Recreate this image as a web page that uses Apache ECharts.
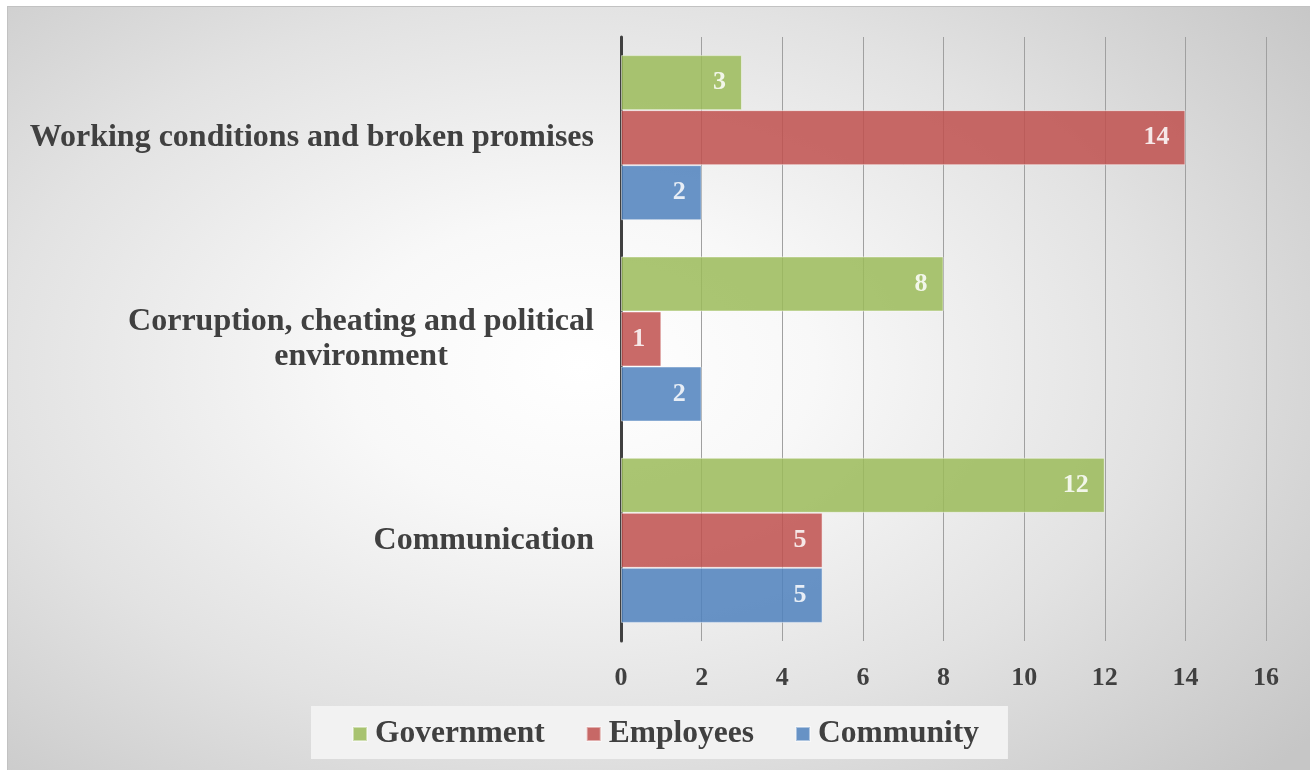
<!DOCTYPE html>
<html>
<head>
<meta charset="utf-8">
<script src="https://cdn.jsdelivr.net/npm/echarts@6/dist/echarts.min.js"></script>
<style>
  html, body { margin: 0; padding: 0; background: #ffffff; }
  #frame {
    position: absolute; left: 7px; top: 6px;
    border-top: 1px solid #c2c2c2; border-left: 1px solid #c2c2c2;
  }
  #chart {
    width: 1302px; height: 763px;
    background: radial-gradient(ellipse 72% 78% at 44% 47%, #ffffff 0%, #f8f8f8 25%, #e2e2e2 62%, #c6c6c6 100%);
  }
</style>
</head>
<body>
<div id="frame"><div id="chart"></div></div>
<script>
// Categories listed bottom to top, as the category axis runs upward
const categories = [
  'Communication',
  'Corruption, cheating and political\nenvironment',
  'Working conditions and broken promises'
];
const seriesNames = ['Government', 'Employees', 'Community'];
const government = [12, 8, 3];
const employees = [5, 1, 14];
const community = [5, 2, 2];
const xTicks = { min: 0, max: 16, interval: 2 };

const FONT = "'Liberation Serif', 'Times New Roman', serif";
const TEXT = '#404040';
const colors = { Government: '#9bbb59', Employees: '#c0504d', Community: '#4f81bd' };

function barSeries(name, values) {
  return {
    name: name,
    type: 'bar',
    data: values,
    barGap: '0%',
    barCategoryGap: '18%',
    itemStyle: {
      color: colors[name],
      opacity: 0.85,
      borderColor: 'rgba(255,255,255,0.55)',
      borderWidth: 1
    },
    label: {
      show: true,
      position: 'insideRight',
      distance: 16,
      color: '#ffffff',
      fontFamily: FONT,
      fontWeight: 'bold',
      fontSize: 26
    }
  };
}

const chart = echarts.init(document.getElementById('chart'), null, { renderer: 'canvas' });
chart.setOption({
  backgroundColor: 'transparent',
  animation: false,
  grid: { left: 613, right: 44, top: 30, bottom: 129, containLabel: false },
  legend: {
    data: seriesNames,
    left: 303,
    top: 699,
    backgroundColor: '#f2f2f2',
    padding: [12, 29, 9, 41],
    itemWidth: 14,
    itemHeight: 14,
    itemGap: 41,
    icon: 'rect',
    textStyle: {
      color: TEXT,
      fontFamily: FONT,
      fontWeight: 'bold',
      fontSize: 31.5,
      padding: [0, 0, 0, 3]
    }
  },
  xAxis: {
    type: 'value',
    min: xTicks.min,
    max: xTicks.max,
    interval: xTicks.interval,
    axisLine: { show: false },
    axisTick: { show: false },
    splitLine: { show: true, lineStyle: { color: '#a0a0a0', width: 1 } },
    axisLabel: {
      color: TEXT,
      fontFamily: FONT,
      fontWeight: 'bold',
      fontSize: 26,
      margin: 24
    }
  },
  yAxis: {
    type: 'category',
    data: categories,
    axisLine: { show: true, lineStyle: { color: TEXT, width: 3 } },
    axisTick: { show: false },
    splitLine: { show: false },
    axisLabel: {
      margin: 27,
      color: TEXT,
      fontFamily: FONT,
      fontWeight: 'bold',
      fontSize: 32,
      lineHeight: 35,
      align: 'right',
      formatter: function (v) {
        if (v.indexOf('\n') < 0) return v;
        return v.split('\n').map(function (s) { return '{c|' + s + '}'; }).join('\n');
      },
      rich: {
        c: {
          width: 466,
          align: 'center',
          color: TEXT,
          fontFamily: FONT,
          fontWeight: 'bold',
          fontSize: 32,
          lineHeight: 35
        }
      }
    }
  },
  series: [
    barSeries('Government', government),
    barSeries('Employees', employees),
    barSeries('Community', community)
  ]
});
</script>
</body>
</html>
